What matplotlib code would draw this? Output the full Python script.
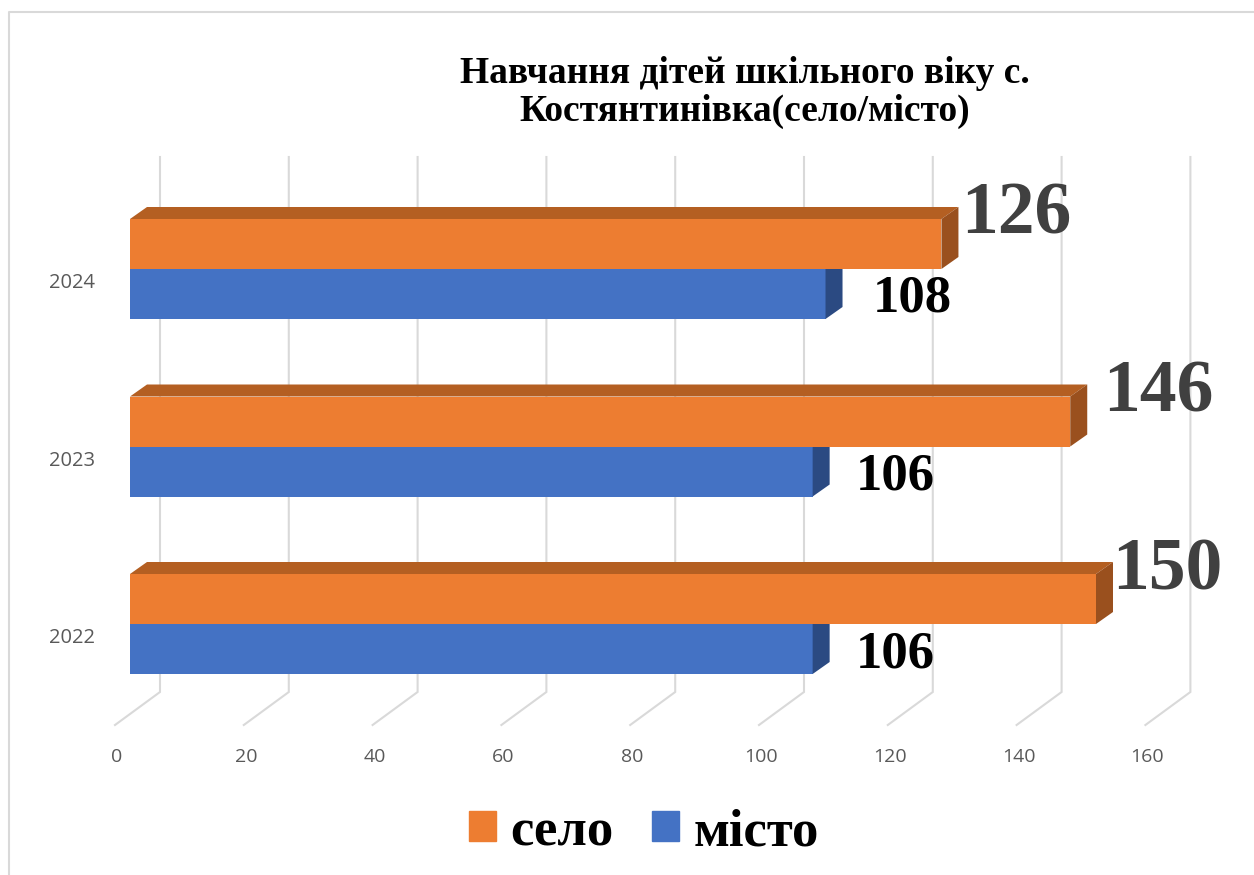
import matplotlib
matplotlib.use('Agg')
import matplotlib.pyplot as plt
from matplotlib.patches import Polygon, Patch
from matplotlib.lines import Line2D

# data
years = ['2022', '2023', '2024']
selo = [150, 146, 126]
misto = [106, 106, 108]
ticks = [0, 20, 40, 60, 80, 100, 120, 140, 160]
series_names = ['село', 'місто']
title_lines = ['Навчання дітей шкільного віку с.', 'Костянтинівка(село/місто)']

# layout (pixels)
W, H = 1254, 875
PX = 6.44     # px per value unit
PY = 177.5    # px per category step
X0 = 130      # px x of value 0 at bar front
Y0 = 624      # px y of the first category boundary
selo_lbl_dx = [-1, 16, 3]     # label shifts as placed in the original
misto_lbl_dx = [43, 43, 47]

ORANGE, ORANGE_TOP, ORANGE_SIDE = '#ED7D31', '#B45F22', '#9A501E'
BLUE, BLUE_SIDE = '#4472C4', '#2B4A82'
GRID = '#D9D9D9'
SERIF = 'Liberation Serif'
SANS = 'Open Sans'


def yu(py):
    return (Y0 - py) / PY


fig = plt.figure(figsize=(W / 100, H / 100), dpi=100)
ax = fig.add_axes([0, 0, 1, 1])
ax.set_xlim(-X0 / PX, (W - X0) / PX)
ax.set_ylim(-(H - Y0) / PY, Y0 / PY)
ax.axis('off')

dx, dy, h = 17 / PX, 12 / PY, 50 / PY
back, front = 30 / PX, -15 / PX

# grid on back wall + floor
for v in ticks:
    ax.plot([v + back, v + back, v + front], [yu(157), yu(692), yu(725)],
            color=GRID, lw=1.5, zorder=1, solid_joinstyle='miter')
    ax.annotate(str(v), xy=(v + front, yu(757)), xytext=(2, 0), textcoords='offset pixels',
                ha='center', va='center', fontsize=14, color='#595959', family=SANS)

pos = list(range(len(years)))
ax.barh([p + h / 2 for p in pos], selo, height=h, color=ORANGE, lw=0, zorder=4)
ax.barh([p - h / 2 for p in pos], misto, height=h, color=BLUE, lw=0, zorder=3)

for p, vs, vm, yr, ox, bx in zip(pos, selo, misto, years, selo_lbl_dx, misto_lbl_dx):
    ax.add_patch(Polygon([(vm, p - h), (vm, p), (vm + dx, p + dy), (vm + dx, p - h + dy)],
                         closed=True, fc=BLUE_SIDE, ec='none', zorder=3))
    ax.add_patch(Polygon([(0, p + h), (vs, p + h), (vs + dx, p + h + dy), (dx, p + h + dy)],
                         closed=True, fc=ORANGE_TOP, ec='none', zorder=4))
    ax.add_patch(Polygon([(vs, p), (vs, p + h), (vs + dx, p + h + dy), (vs + dx, p + dy)],
                         closed=True, fc=ORANGE_SIDE, ec='none', zorder=4))
    ax.annotate(str(vs), xy=(vs + dx, p + h + dy), xytext=(ox, -27), textcoords='offset pixels',
                ha='left', va='baseline', fontsize=53, fontweight='bold', family=SERIF,
                color='#404040', zorder=6)
    ax.annotate(str(vm), xy=(vm, p - h / 2), xytext=(bx, -18), textcoords='offset pixels',
                ha='left', va='baseline', fontsize=38, fontweight='bold', family=SERIF,
                color='black', zorder=6)
    ax.annotate(yr, xy=(0, p), xytext=(-35, -14), textcoords='offset pixels',
                ha='right', va='center', fontsize=14.5, color='#595959', family=SANS)

# title
fig.text(745 / W, 1 - 83 / H, title_lines[0], ha='center', va='baseline',
         fontsize=27, fontweight='bold', family=SERIF)
fig.text(745 / W, 1 - 121 / H, title_lines[1], ha='center', va='baseline',
         fontsize=27, fontweight='bold', family=SERIF)

# legend
handles = [Patch(color=ORANGE), Patch(color=BLUE)]
fig.legend(handles, series_names, loc='center', bbox_to_anchor=(644 / W, 1 - 832 / H),
           ncol=2, frameon=False, prop={'family': SERIF, 'weight': 'bold', 'size': 38},
           handlelength=0.51, handleheight=0.51, handletextpad=0.28, columnspacing=0.72)

# chart frame
fig.add_artist(Line2D([9 / W, 9 / W, 1], [0, 1 - 12 / H, 1 - 12 / H],
                      transform=fig.transFigure, color=GRID, lw=1.5))

fig.savefig('out.png', dpi=100)
